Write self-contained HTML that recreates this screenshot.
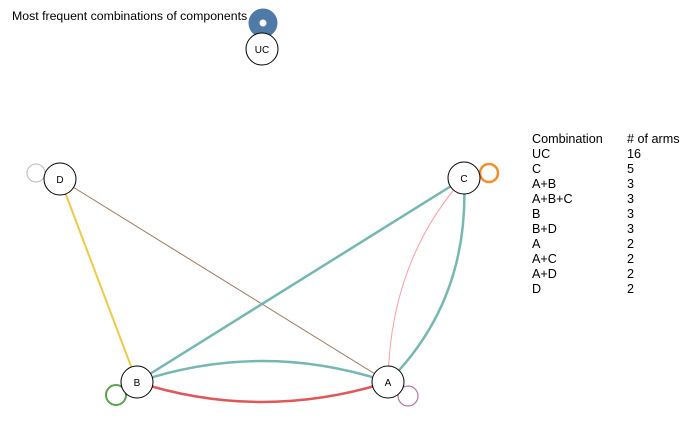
<!DOCTYPE html>
<html><head><meta charset="utf-8"><style>
html,body{margin:0;padding:0;background:#fff;width:700px;height:432px;overflow:hidden}
svg text{font-family:"Liberation Sans",Arial,sans-serif;fill:#000}
</style></head><body>
<svg width="700" height="432" viewBox="0 0 700 432" xmlns="http://www.w3.org/2000/svg">
<text x="12" y="20" font-size="12.3">Most frequent combinations of components</text>
<!-- loops -->
<circle cx="263" cy="23" r="9" fill="none" stroke="#4f79a7" stroke-width="11"/>
<circle cx="489" cy="173" r="9" fill="none" stroke="#f28e2b" stroke-width="2.5"/>
<circle cx="36" cy="173" r="9" fill="none" stroke="#bbbbbb" stroke-width="1"/>
<circle cx="116" cy="395" r="10" fill="none" stroke="#59a14f" stroke-width="2"/>
<circle cx="408" cy="396" r="10" fill="none" stroke="#b07aa1" stroke-width="1.2"/>
<!-- edges -->
<line x1="60" y1="179" x2="137" y2="382" stroke="#edc948" stroke-width="2"/>
<line x1="60" y1="179" x2="388" y2="382" stroke="#9c755f" stroke-width="1"/>
<line x1="137" y1="382" x2="464" y2="178" stroke="#76b7b2" stroke-width="2.5"/>
<path d="M137 382 Q262 340 388 382" fill="none" stroke="#76b7b2" stroke-width="2.5"/>
<path d="M137 382 Q262 422 388 382" fill="none" stroke="#e15759" stroke-width="2.5"/>
<path d="M464 178 Q470 300 388 382" fill="none" stroke="#76b7b2" stroke-width="2.5"/>
<path d="M464 178 Q390 260 388 382" fill="none" stroke="#ff9da7" stroke-width="1"/>
<!-- nodes -->
<g fill="#fff" stroke="#000" stroke-width="1">
<circle cx="262" cy="49" r="16"/>
<circle cx="60" cy="179" r="16"/>
<circle cx="464" cy="178" r="16"/>
<circle cx="137" cy="382" r="16"/>
<circle cx="388" cy="382" r="16"/>
</g>
<g font-size="10" text-anchor="middle">
<text x="262" y="53">UC</text>
<text x="60" y="183">D</text>
<text x="464" y="182">C</text>
<text x="137" y="386">B</text>
<text x="388" y="386">A</text>
</g>
<g font-size="12.6">
<text x="532" y="143">Combination</text><text x="627" y="143"># of arms</text>
<text x="532" y="158">UC</text><text x="627" y="158">16</text>
<text x="532" y="173">C</text><text x="627" y="173">5</text>
<text x="532" y="188">A+B</text><text x="627" y="188">3</text>
<text x="532" y="203">A+B+C</text><text x="627" y="203">3</text>
<text x="532" y="218">B</text><text x="627" y="218">3</text>
<text x="532" y="233">B+D</text><text x="627" y="233">3</text>
<text x="532" y="248">A</text><text x="627" y="248">2</text>
<text x="532" y="263">A+C</text><text x="627" y="263">2</text>
<text x="532" y="278">A+D</text><text x="627" y="278">2</text>
<text x="532" y="293">D</text><text x="627" y="293">2</text>
</g>
</svg>
</body></html>
